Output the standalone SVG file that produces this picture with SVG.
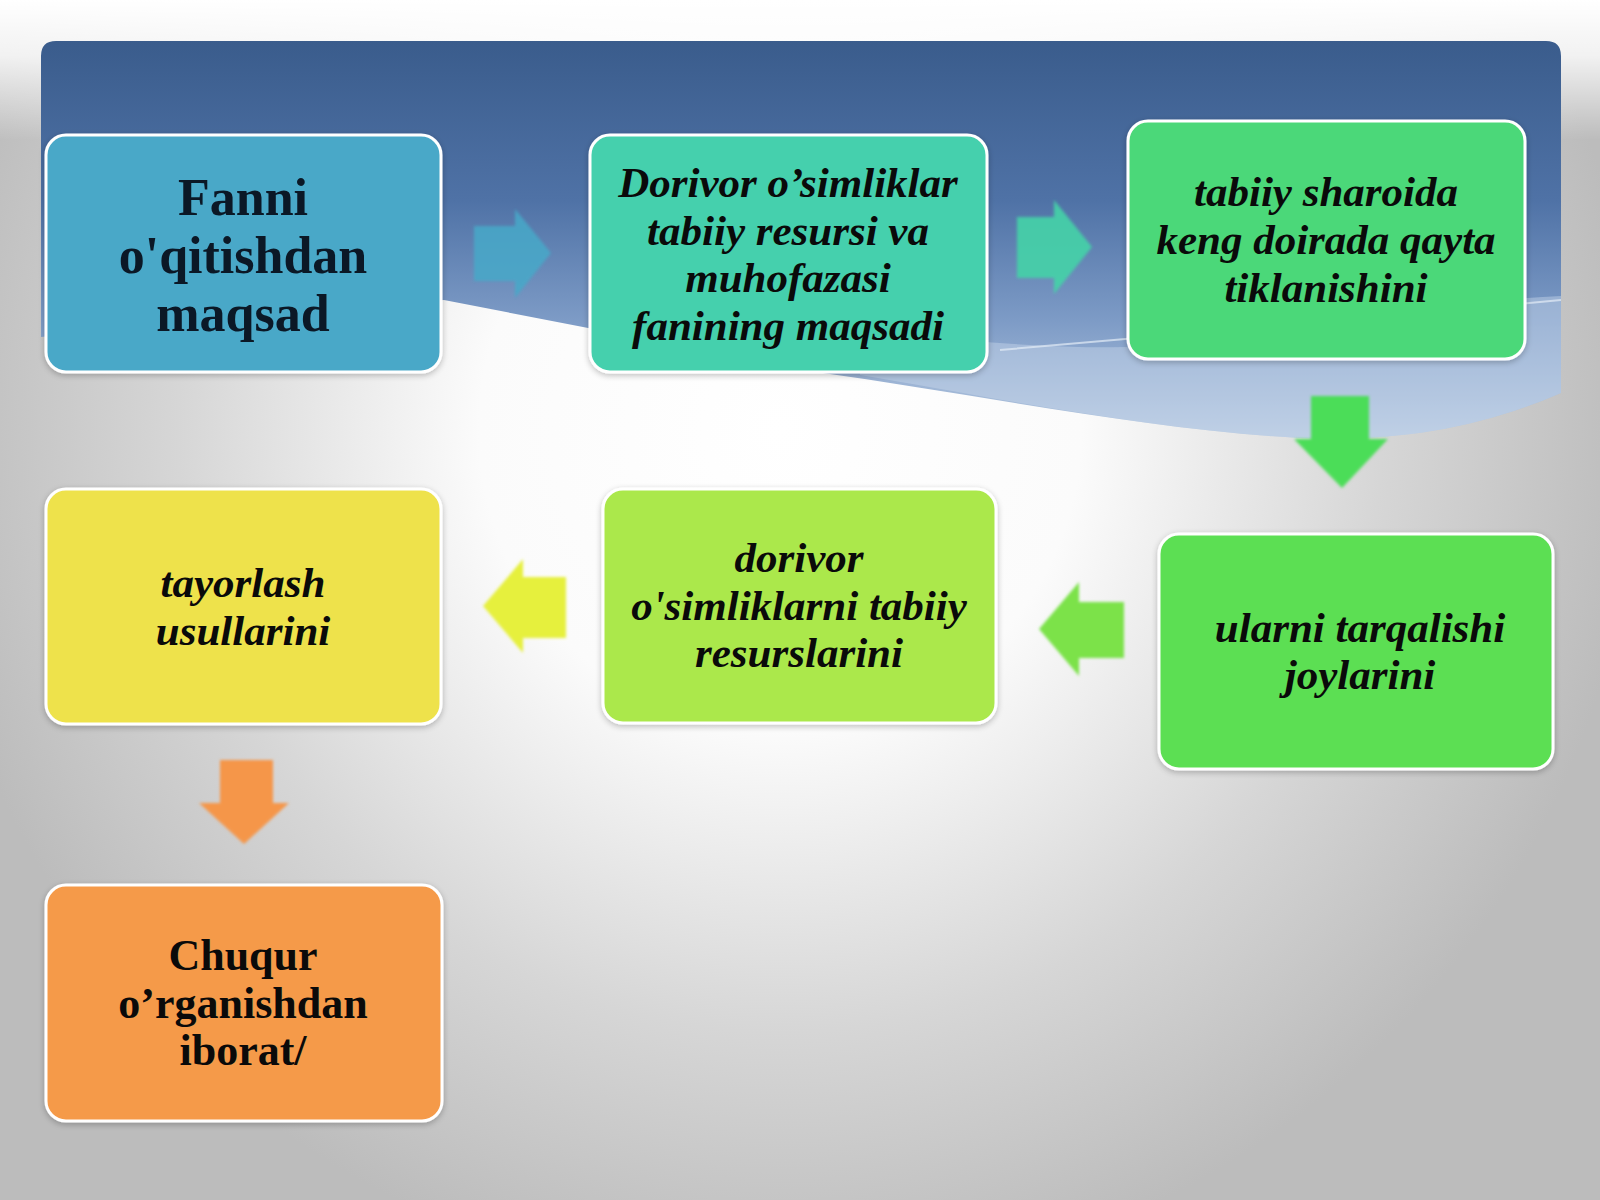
<svg xmlns="http://www.w3.org/2000/svg" width="1600" height="1200" viewBox="0 0 1600 1200">
<defs>
<radialGradient id="bg" cx="780" cy="430" r="860" gradientUnits="userSpaceOnUse">
<stop offset="0" stop-color="#ffffff"/>
<stop offset="0.35" stop-color="#fbfbfb"/>
<stop offset="0.7" stop-color="#d6d6d6"/>
<stop offset="1" stop-color="#bcbcbc"/>
</radialGradient>
<linearGradient id="topw" x1="0" y1="0" x2="0" y2="1">
<stop offset="0" stop-color="#ffffff" stop-opacity="1"/>
<stop offset="0.4" stop-color="#ffffff" stop-opacity="0.8"/>
<stop offset="1" stop-color="#ffffff" stop-opacity="0"/>
</linearGradient>
<linearGradient id="panel" x1="0" y1="41" x2="0" y2="440" gradientUnits="userSpaceOnUse">
<stop offset="0" stop-color="#3a5c8c"/>
<stop offset="0.4" stop-color="#4f72a6"/>
<stop offset="0.7" stop-color="#7d9bc6"/>
<stop offset="1" stop-color="#b9cbe2"/>
</linearGradient>
<filter id="sh" x="-10%" y="-10%" width="120%" height="120%">
<feGaussianBlur in="SourceAlpha" stdDeviation="3"/>
<feOffset dx="0" dy="2" result="b"/>
<feComponentTransfer><feFuncA type="linear" slope="0.25"/></feComponentTransfer>
<feMerge><feMergeNode/><feMergeNode in="SourceGraphic"/></feMerge>
</filter>
<filter id="soft" x="-20%" y="-20%" width="140%" height="140%"><feGaussianBlur stdDeviation="1.5"/></filter>
</defs>
<style>
.box{stroke:#ffffff;stroke-width:3;filter:url(#sh)}
.arr{filter:url(#soft)}
.t{font-family:"Liberation Serif","Times New Roman",serif;font-weight:bold;text-anchor:middle;fill:#0a0a0a}
.it{font-style:italic;font-size:43px}
.up1{font-size:52px;fill:#0b1826}
.up2{font-size:44px}
</style>
<rect x="0" y="0" width="1600" height="1200" fill="url(#bg)"/>
<rect x="0" y="0" width="1600" height="140" fill="url(#topw)"/>
<g id="panel-bg">
<path d="M41,56 Q41,41 56,41 H1546 Q1561,41 1561,56 V393 C1480,428 1400,442 1300,438 C1150,430 980,395 816,372 L444,300 C300,310 150,325 41,337 Z" fill="url(#panel)"/>
<path d="M860,330 C1000,345 1150,360 1300,330 C1400,310 1480,300 1561,296 V393 C1480,428 1400,442 1300,438 C1150,430 980,395 860,375 Z" fill="#c8d8ec" opacity="0.45"/>
<path d="M1000,350 L1400,315 L1561,300" fill="none" stroke="#e4ecf6" stroke-width="2" opacity="0.7"/>
</g>
<g id="connectors">
<path id="a1" class="arr" d="M474,226 H515 V209 L551,253 L515,298 V281 H474 Z" fill="#46a9c9" opacity="0.85"/>
<path id="a2" class="arr" d="M1017,217 H1054 V200 L1092,247 L1054,294 V278 H1017 Z" fill="#45d3a8" opacity="0.9"/>
<path id="a3" class="arr" d="M1311,396 H1369 V439 H1388 L1342,488 L1294,439 H1311 Z" fill="#4cdd58"/>
<path id="a4" class="arr" d="M1124,602 H1079 V582 L1039,629 L1079,676 V658 H1124 Z" fill="#7be24a"/>
<path id="a5" class="arr" d="M566,577 H523 V559 L483,606 L523,653 V638 H566 Z" fill="#e6f03c"/>
<path id="a6" class="arr" d="M220,760 H273 V803 H289 L244,844 L199,803 H220 Z" fill="#f5964a"/>
</g>
<g id="n1">
<rect class="box" x="46" y="135" width="395" height="237" rx="20" fill="#4aa8c8"/>
<text class="t up1" x="243" y="215">Fanni</text>
<text class="t up1" x="243" y="273">o'qitishdan</text>
<text class="t up1" x="243" y="331">maqsad</text>
</g>
<g id="n2">
<rect class="box" x="590" y="135" width="397" height="237" rx="20" fill="#45d0ad"/>
<text class="t it" x="788" y="197">Dorivor o’simliklar</text>
<text class="t it" x="788" y="245">tabiiy resursi va</text>
<text class="t it" x="788" y="292">muhofazasi</text>
<text class="t it" x="788" y="340">fanining maqsadi</text>
</g>
<g id="n3">
<rect class="box" x="1128" y="121" width="397" height="238" rx="20" fill="#4cd879"/>
<text class="t it" x="1326" y="206">tabiiy sharoida</text>
<text class="t it" x="1326" y="254">keng doirada qayta</text>
<text class="t it" x="1326" y="302">tiklanishini</text>
</g>
<g id="n4">
<rect class="box" x="1159" y="534" width="394" height="235" rx="20" fill="#5cdf53"/>
<text class="t it" x="1360" y="642">ularni tarqalishi</text>
<text class="t it" x="1360" y="689">joylarini</text>
</g>
<g id="n5">
<rect class="box" x="603" y="489" width="393" height="234" rx="20" fill="#abe84b"/>
<text class="t it" x="799" y="572">dorivor</text>
<text class="t it" x="799" y="620">o'simliklarni tabiiy</text>
<text class="t it" x="799" y="667">resurslarini</text>
</g>
<g id="n6">
<rect class="box" x="46" y="489" width="395" height="235" rx="20" fill="#eee24c"/>
<text class="t it" x="243" y="597">tayorlash</text>
<text class="t it" x="243" y="645">usullarini</text>
</g>
<g id="n7">
<rect class="box" x="46" y="885" width="396" height="236" rx="20" fill="#f59a48"/>
<text class="t up2" x="243" y="970">Chuqur</text>
<text class="t up2" x="243" y="1018">o’rganishdan</text>
<text class="t up2" x="243" y="1065">iborat/</text>
</g>
</svg>
